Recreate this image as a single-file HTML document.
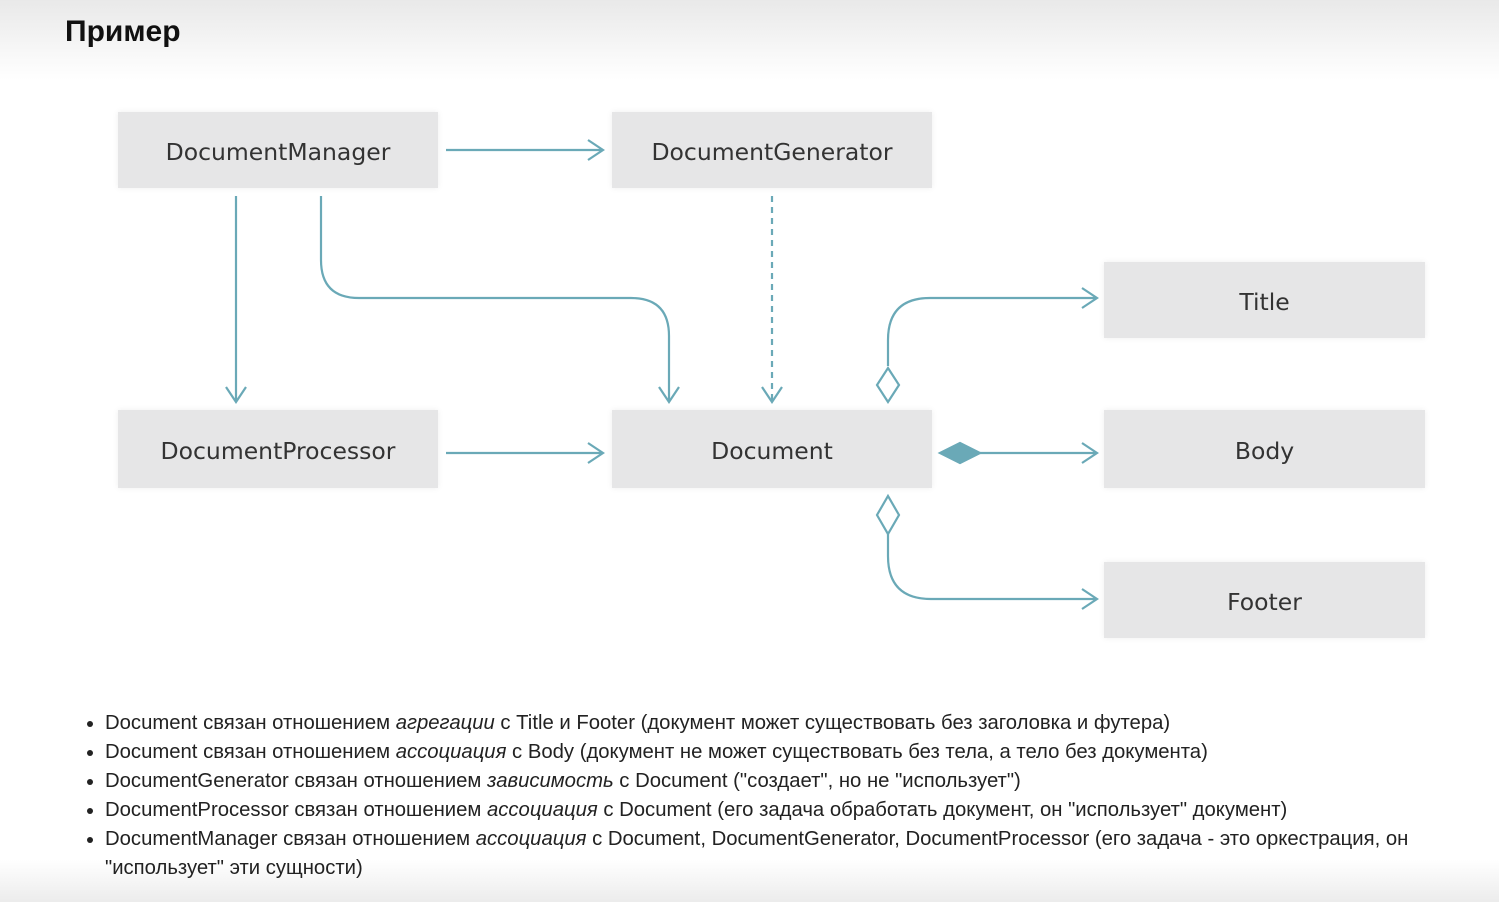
<!DOCTYPE html>
<html><head><meta charset="utf-8"><style>
body{margin:0;width:1499px;height:902px;overflow:hidden;font-family:"Liberation Sans","DejaVu Sans",sans-serif;background:linear-gradient(#e9e9e9 0px,#fff 80px,#fff 860px,#ececec 902px);position:relative}
h1{position:absolute;left:65px;top:15px;margin:0;font-size:30px;font-weight:bold;color:#111}
.b{position:absolute;background:#e6e6e7;box-shadow:0 0 6px #eee;display:flex;align-items:center;justify-content:center;font-family:"DejaVu Sans","Liberation Sans",sans-serif;font-size:23.5px;color:#333;padding-top:4px;box-sizing:border-box}
ul{position:absolute;left:80px;top:709px;margin:0;padding-left:25px;font-size:20.3px;color:#222;line-height:29px;width:1320px}
</style></head><body>
<h1>Пример</h1>
<div class="b" style="left:118px;top:112px;width:320px;height:76px">DocumentManager</div>
<div class="b" style="left:612px;top:112px;width:320px;height:76px">DocumentGenerator</div>
<div class="b" style="left:118px;top:410px;width:320px;height:78px">DocumentProcessor</div>
<div class="b" style="left:612px;top:410px;width:320px;height:78px">Document</div>
<div class="b" style="left:1104px;top:262px;width:321px;height:76px">Title</div>
<div class="b" style="left:1104px;top:410px;width:321px;height:78px">Body</div>
<div class="b" style="left:1104px;top:562px;width:321px;height:76px">Footer</div>
<svg width="1499" height="902" style="position:absolute;left:0;top:0" fill="none" stroke="#6aa9b7" stroke-width="2.2">
<path d="M446 150H603M588 140l15 10-15 10"/>
<path d="M236 196V402M226 387l10 15 10-15"/>
<path d="M321 196V260q0 38 38 38H631q38 0 38 38V402M659 387l10 15 10-15"/>
<path d="M772 196V402" stroke-dasharray="6 5"/><path d="M762 387l10 15 10-15"/>
<path d="M446 453H603M588 443l15 10-15 10"/>
<path d="M888 366V340q0-42 42-42H1097M1082 288l15 10-15 10"/>
<path d="M888 366l-11-17 11-17 11 17z" transform="translate(0,36)"/>
<path d="M940 453l20-10 20 10-20 10z" fill="#6aa9b7"/>
<path d="M980 453H1097M1082 443l15 10-15 10"/>
<path d="M888 496l11 19-11 19-11-19z"/>
<path d="M888 534V556q0 43 43 43H1097M1082 589l15 10-15 10"/>
</svg>
<ul>
<li>Document связан отношением <i>агрегации</i> с Title и Footer (документ может существовать без заголовка и футера)</li>
<li>Document связан отношением <i>ассоциация</i> с Body (документ не может существовать без тела, а тело без документа)</li>
<li>DocumentGenerator связан отношением <i>зависимость</i> с Document ("создает", но не "использует")</li>
<li>DocumentProcessor связан отношением <i>ассоциация</i> с Document (его задача обработать документ, он "использует" документ)</li>
<li>DocumentManager связан отношением <i>ассоциация</i> с Document, DocumentGenerator, DocumentProcessor (его задача - это оркестрация, он "использует" эти сущности)</li>
</ul>
</body></html>
